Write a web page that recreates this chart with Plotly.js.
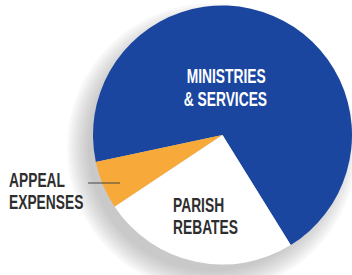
<!DOCTYPE html>
<html><head><meta charset="utf-8">
<script src="https://cdn.plot.ly/plotly-3.0.1.min.js"></script>
<style>html,body{margin:0;padding:0;background:#fff}#chart{width:352px;height:275px}</style>
</head><body><div id="chart"></div>
<script>
const categories = ["Ministries & Services", "Appeal Expenses", "Parish Rebates"];
const shares = [69.5, 6.0, 24.5];
const sliceColors = ["#1b46a0", "#f7a939", "#ffffff"];
const labelLines = [["MINISTRIES", "& SERVICES"], ["APPEAL", "EXPENSES"], ["PARISH", "REBATES"]];

const W = 352, H = 275;
const px = (x) => x / W, py = (y) => 1 - y / H;
const FONT = "'Liberation Sans', Arial, sans-serif";
const SQUEEZE = 0.69;

const shadows = [];
for (let i = 0; i < 9; i++) {
  const r = 124 + i * 2.6, cx = 212, cy = 148;
  shadows.push({type: "circle", xref: "paper", yref: "paper", layer: "below",
    x0: px(cx - r), x1: px(cx + r), y0: py(cy + r), y1: py(cy - r),
    fillcolor: "rgba(120,120,120,0.055)", line: {width: 0}});
}

const ann = [], anchors = [];
function addLabel(text, x, y, color, anchor) {
  anchors.push(anchor);
  ann.push({text: text, xref: "paper", yref: "paper", x: px(x), y: py(y), xanchor: anchor, yanchor: "middle",
    showarrow: false, font: {family: FONT, size: 20, color: color, weight: "bold"}});
}
addLabel(labelLines[0][0], 226, 76, "#ffffff", "center");
addLabel(labelLines[0][1], 225, 98.5, "#ffffff", "center");
addLabel(labelLines[1][0], 7, 180, "#2e2e2e", "left");
addLabel(labelLines[1][1], 7, 201.5, "#2e2e2e", "left");
addLabel(labelLines[2][0], 171, 205, "#2e2e2e", "left");
addLabel(labelLines[2][1], 171, 226.5, "#2e2e2e", "left");

const data = [{
  type: "pie", labels: categories, values: shares, sort: false,
  direction: "counterclockwise", rotation: -102,
  marker: {colors: sliceColors, line: {width: 0}},
  textinfo: "none", hoverinfo: "label+percent",
  domain: {x: [px(93), 1], y: [py(265), py(5)]}
}];

const layout = {
  width: W, height: H, margin: {l: 0, r: 0, t: 0, b: 0},
  paper_bgcolor: "#ffffff", plot_bgcolor: "#ffffff", showlegend: false,
  shapes: shadows.concat([{type: "line", xref: "paper", yref: "paper",
    x0: px(88), x1: px(120), y0: py(183), y1: py(183), line: {color: "#444444", width: 1}}]),
  annotations: ann
};
Plotly.newPlot("chart", data, layout, {displayModeBar: false, staticPlot: true}).then(function () {
  document.querySelectorAll("#chart .annotation").forEach(function (g, i) {
    const t = g.querySelector("text.annotation-text");
    if (!t) return;
    t.style.transformBox = "fill-box";
    t.style.transformOrigin = anchors[i] === "left" ? "0% 50%" : "50% 50%";
    t.style.transform = "scaleX(" + SQUEEZE + ")";
  });
});
</script></body></html>
